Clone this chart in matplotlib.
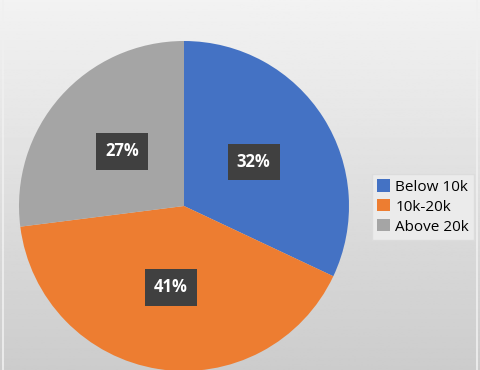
import matplotlib
matplotlib.use('Agg')
import matplotlib.pyplot as plt
import numpy as np

labels = ['Below 10k', '10k-20k', 'Above 20k']
shares = [32, 41, 27]
colors = ['#4472C4', '#ED7D31', '#A5A5A5']

plt.rcParams['font.family'] = ['Open Sans', 'DejaVu Sans']

fig = plt.figure(figsize=(4.8, 3.7), dpi=100)

# gradient background
bg = fig.add_axes([0, 0, 1, 1], zorder=-1)
grad = np.linspace(0.95, 0.80, 256).reshape(-1, 1)
bg.imshow(grad, aspect='auto', cmap='gray', vmin=0, vmax=1, extent=[0, 1, 0, 1])
for x in (0.007, 0.993):
    bg.axvline(x, color='#f0f0f0', lw=1.2)
bg.set_xlim(0, 1)
bg.set_ylim(0, 1)
bg.axis('off')

ax = fig.add_axes([19 / 480, -1 / 370, 330 / 480, 330 / 370])
wedges, texts, autotexts = ax.pie(shares, colors=colors, startangle=90, counterclock=False,
                                  autopct='%d%%', pctdistance=0.5, radius=1,
                                  wedgeprops=dict(linewidth=0))
for t in autotexts:
    t.set_color('white')
    t.set_fontsize(12)
    t.set_fontweight('bold')
    t.set_bbox(dict(boxstyle='square,pad=0.55', facecolor='#404040', edgecolor='none'))
ax.set_xlim(-1, 1)
ax.set_ylim(-1, 1)
ax.set_aspect('equal')

leg = fig.legend(wedges, labels, loc='center left', bbox_to_anchor=(364 / 480, 1 - 207 / 370),
                 fontsize=11, frameon=True, fancybox=False, handlelength=0.85, handleheight=0.85,
                 handletextpad=0.35, labelspacing=0.3, borderpad=0.35)
leg.get_frame().set_facecolor('#ebebeb')
leg.get_frame().set_edgecolor('#dcdcdc')
leg.get_frame().set_alpha(1)

fig.savefig('out.png', dpi=100)
